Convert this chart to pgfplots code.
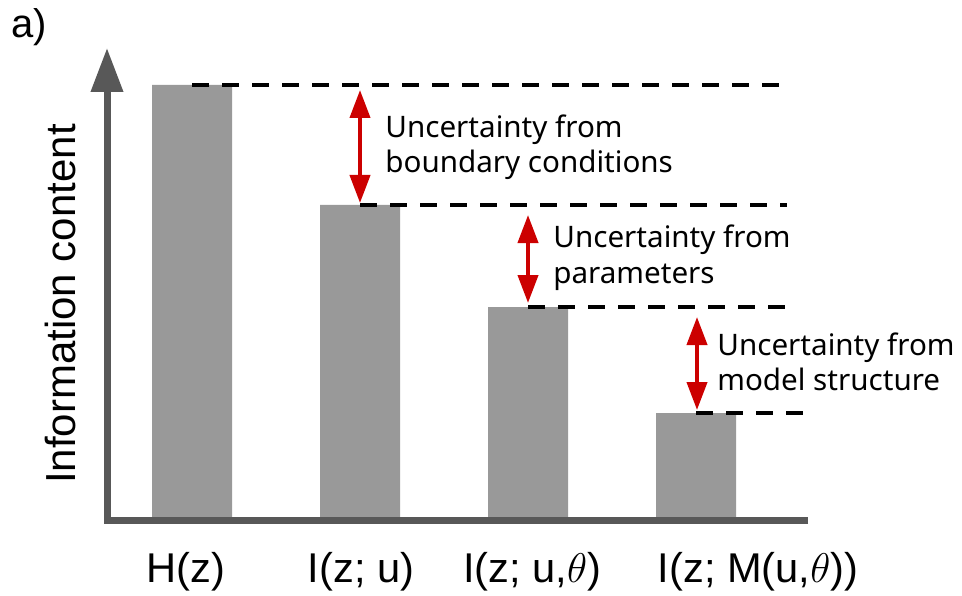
\documentclass[border=0pt]{standalone}
\usepackage{pgfplots}
\pgfplotsset{compat=1.18}
\usepackage{fontspec}
\setmainfont{Liberation Sans}
\newfontfamily\annot{Noto Sans}
\usetikzlibrary{arrows.meta}
\definecolor{bargray}{HTML}{999999}
\definecolor{axisgray}{HTML}{585858}
\definecolor{arrred}{HTML}{CC0000}
\begin{document}
\begin{tikzpicture}
\begin{axis}[
  width=481pt, height=260pt, scale only axis,
  xmin=0, xmax=962, ymin=0, ymax=520,
  clip=false,
  axis line style={draw=none},
  major tick length=0pt,
  ytick=\empty,
  xtick={186,361,532,758},
  xticklabels={H(z), I(z; u), {I(z; u,$\theta$)}, {I(z; M(u,$\theta$))}},
  xticklabel style={anchor=base, yshift=-31pt, font=\fontsize{20.8}{24}\selectfont, inner sep=0pt},
  ylabel={Information content},
  ylabel style={at={(axis description cs:0.0624,0.4154)}, anchor=center, font=\fontsize{21}{25}\selectfont, inner sep=0pt},
]
\coordinate (bl) at (axis cs:0,-75);
\coordinate (tr) at (axis cs:962,520);
% bars
\addplot[ybar, bar width=80, fill=bargray, draw=none] coordinates {(192,435) (360,315) (528,213) (696,107)};
% axes
\draw[line width=3.5pt, axisgray, line join=miter, -{Triangle[width=15.5pt,length=22pt]}]
  (axis cs:808,0) -- (axis cs:107,0) -- (axis cs:107,472);
% dashed levels
\addplot[black, line width=2.25pt, dash pattern=on 8.5pt off 6.5pt] coordinates {(192,435) (780,435)};
\addplot[black, line width=2.25pt, dash pattern=on 8.5pt off 6.5pt] coordinates {(360,315) (787,315)};
\addplot[black, line width=2.25pt, dash pattern=on 8.5pt off 6.5pt] coordinates {(528,213) (785,213)};
\addplot[black, line width=2.25pt, dash pattern=on 8.5pt off 6.5pt] coordinates {(696,107) (808,107)};
% red arrows
\addplot[arrred, line width=2pt, {Triangle[width=10pt,length=14pt]}-{Triangle[width=10pt,length=14pt]}] coordinates {(360,430) (360,317)};
\addplot[arrred, line width=2pt, {Triangle[width=10pt,length=14pt]}-{Triangle[width=10pt,length=14pt]}] coordinates {(528,305) (528,217)};
\addplot[arrred, line width=2pt, {Triangle[width=10pt,length=14pt]}-{Triangle[width=10pt,length=14pt]}] coordinates {(697,203) (697,110)};
% annotations
\begin{scope}[every node/.style={inner sep=0pt, anchor=base west, font=\annot\fontsize{14.8}{17.8}\selectfont}]
\node at (axis cs:385,382) {Uncertainty from};
\node at (axis cs:385,347) {boundary conditions};
\node at (axis cs:553,273) {Uncertainty from};
\node at (axis cs:553,237) {parameters};
\node at (axis cs:717,165) {Uncertainty from};
\node at (axis cs:717,130) {model structure};
\end{scope}
\node[inner sep=0pt, anchor=base west, font=\fontsize{20}{24}\selectfont] at (axis cs:11,482) {a)};
\end{axis}
\pgfresetboundingbox
\path (bl) rectangle (tr);
\end{tikzpicture}
\end{document}
